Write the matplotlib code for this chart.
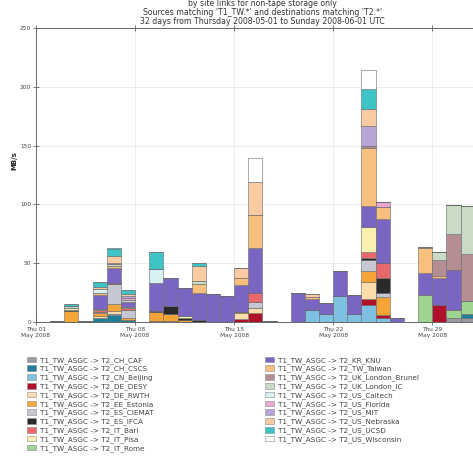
import matplotlib
matplotlib.use('Agg')
import matplotlib.pyplot as plt
import matplotlib.dates as mdates
from matplotlib.patches import Patch
import pandas as pd

# one bin per day, May 1 .. Jun 1 2008
days = pd.date_range('2008-05-01', periods=32, freq='D')

links = [
    'T2_CH_CAF', 'T2_CH_CSCS', 'T2_CN_Beijing', 'T2_DE_DESY', 'T2_DE_RWTH',
    'T2_EE_Estonia', 'T2_ES_CIEMAT', 'T2_ES_IFCA', 'T2_IT_Bari', 'T2_IT_Pisa',
    'T2_IT_Rome', 'T2_KR_KNU', 'T2_TW_Taiwan', 'T2_UK_London_Brunel',
    'T2_UK_London_IC', 'T2_US_Caltech', 'T2_US_Florida', 'T2_US_MIT',
    'T2_US_Nebraska', 'T2_US_UCSD', 'T2_US_Wisconsin',
]

# MB/s per day
ch_caf = [0, 0, 0, 0, 0, 0, 0, 0, 0, 0, 0, 0, 0, 0, 0, 0, 0, 0, 0, 0, 0, 0, 0, 0, 0, 0, 0, 0, 0, 3.5, 3.5, 0]
ch_cscs = [0, 0, 0, 0, 3, 6, 2, 0, 0, 0, 0, 0, 0, 0, 0, 0, 0, 0, 0, 0, 0, 0, 0, 0, 0, 0, 0, 0, 0, 0, 3, 0]
cn_beijing = [0, 0, 0, 0, 0, 1, 0, 0, 0, 0, 0, 0, 0, 0, 0, 0, 0, 0, 0, 10.5, 7, 22.5, 7, 14.5, 3, 0, 0, 0, 0, 0, 0, 0]
de_desy = [0, 0, 0, 0, 0, 0, 0, 0, 0.8, 1, 0, 0, 0, 0, 2.5, 7.4, 0, 0, 0, 0, 0, 0, 0, 5.4, 2.8, 0, 0, 0, 14.5, 0, 0, 0]
de_rwth = [0, 0, 0, 0, 2, 2, 0, 0, 0, 0, 0, 0, 0, 0, 5, 4.3, 0, 0, 0, 0, 0, 0, 0, 13.8, 0, 0, 0, 0, 0, 0, 0, 0]
ee_estonia = [0, 0, 9, 0, 2.5, 6, 1.5, 0, 7.5, 6, 1.5, 0, 0, 0, 1, 0, 0, 0, 0, 0, 0, 0, 0, 9.9, 15.6, 0, 0, 0, 0, 0, 0, 0]
es_ciemat = [0, 0, 0, 0, 1, 17, 7, 0, 0, 0, 0, 0, 0, 0, 0, 5.7, 0, 0, 0, 0, 0, 0, 0, 9.2, 3, 0, 0, 0, 0, 0, 0, 0]
es_ifca = [0, 0, 1.2, 0, 0, 0, 0, 0, 1, 6.5, 2, 2, 0, 0, 0, 0, 0, 0, 0, 0, 0, 0, 0, 2, 12.8, 0, 0, 0, 0, 0, 0, 0]
it_bari = [0, 0, 0, 0, 1.5, 1, 1, 0, 0, 0, 0, 0, 0, 0, 0, 7.1, 0, 0, 0, 0, 0, 0, 0, 5, 12.8, 0, 0, 0, 0, 0, 0, 0]
it_pisa = [0, 0, 2, 0, 0, 0, 0, 0, 0, 0, 1.5, 0, 0, 0, 0, 0, 0, 0, 0, 0, 0, 0, 0, 21, 0, 0, 0, 0, 0, 0, 0, 0]
it_rome = [0, 0, 0, 0, 1, 0, 1.5, 0, 0, 0, 0, 0, 0, 0, 0, 0, 0, 0, 0, 0, 0, 0, 0, 0, 0, 0, 0, 23, 0, 6.5, 11, 0]
kr_knu = [0, 0.8, 0, 0.5, 12, 13, 4, 0, 23.5, 24, 24, 22.5, 24, 22, 23, 38.3, 1, 0, 24.5, 9, 9.5, 21, 16, 17.5, 38, 3.5, 0, 18.5, 22.7, 34, 0, 0]
tw_taiwan = [0, 0, 0, 0, 2, 2, 0, 0, 0, 0, 0, 8, 0, 0, 6, 28.3, 0, 0, 0, 2, 0, 0, 0, 50, 10, 0, 0, 21.5, 1.5, 0, 0, 0]
uk_brunel = [0, 0, 0, 0, 0, 0, 0, 0, 0, 0, 0, 0, 0, 0, 0, 0, 0, 0, 0, 0, 0, 0, 0, 1, 0, 0, 0, 0, 14.2, 31, 40.5, 0]
uk_ic = [0, 0, 1.3, 0, 0, 1.5, 1.5, 0, 0, 0, 0, 2.5, 0, 0, 0, 0, 0, 0, 0, 0, 0, 0, 0, 0, 0, 0, 0, 0, 6.2, 24.5, 41, 0]
us_caltech = [0, 0, 0, 0, 3, 0, 0, 0, 12, 0, 0, 0, 0, 0, 0, 0, 0, 0, 0, 0, 0, 0, 0, 0, 0, 0, 0, 0, 0, 0, 0, 0]
us_florida = [0, 0, 0, 0, 0, 0, 1.5, 0, 0, 0, 0, 0, 0, 0, 0, 0, 0, 0, 0, 0, 0, 0, 0, 0, 4.2, 0, 0, 0, 0, 0, 0, 0]
us_mit = [0, 0, 0, 0, 0, 1, 2, 0, 0, 0, 0, 0, 0, 0, 0, 0, 0, 0, 0, 0, 0, 0, 0, 17, 0, 0, 0, 0, 0, 0, 0, 0]
us_nebraska = [0, 0, 0, 0, 1.5, 6, 2, 0, 0, 0, 0, 13, 0, 0, 8, 28.3, 0, 0, 0, 2.5, 0, 0, 0, 14.5, 0, 0, 0, 1, 0, 0, 0, 0]
us_ucsd = [0, 0, 1.5, 0, 4.5, 6, 3.5, 0, 14.5, 0, 0, 2.5, 0, 0, 0, 0, 0, 0, 0, 0, 0, 0, 0, 17, 0, 0, 0, 0, 0, 0, 0, 0]
us_wisconsin = [0, 0, 0, 0, 0, 0, 0, 0, 0, 0, 0, 0, 0, 0, 0, 19.8, 0, 0, 0, 0, 0, 0, 0, 16.5, 0, 0, 0, 0, 0, 0, 0, 0]

series = [ch_caf, ch_cscs, cn_beijing, de_desy, de_rwth, ee_estonia, es_ciemat,
          es_ifca, it_bari, it_pisa, it_rome, kr_knu, tw_taiwan, uk_brunel, uk_ic,
          us_caltech, us_florida, us_mit, us_nebraska, us_ucsd, us_wisconsin]

colors = ['#9a9aa2', '#1f7f9a', '#7ec0e0', '#b0112a', '#fbdcaa', '#f5a435',
          '#c5c8d2', '#2a2a2a', '#e8686c', '#f8efb0', '#9dd48f', '#7a66c2',
          '#f9bf7f', '#b48e92', '#c9dbc4', '#d7f0f3', '#eba6d3', '#b9a4d8',
          '#f8cba2', '#3ec3c7', '#ffffff']

W, H = 473, 467
fig = plt.figure(figsize=(W / 100, H / 100), dpi=100)
# the source image is cropped on the right, so the axes run past the edge
ax = fig.add_axes([36 / W, (H - 322) / H, 452.8 / W, 294 / H])

bottom = [0.0] * len(days)
for vals, col in zip(series, colors):
    ax.bar(days, vals, width=1.0, align='edge', bottom=bottom,
           color=col, edgecolor='#6a6a6a', linewidth=0.4, zorder=3)
    bottom = [b + v for b, v in zip(bottom, vals)]

ax.set_xlim(days[0], days[-1] + pd.Timedelta(days=1))
ax.set_ylim(0, 250)
ax.set_yticks([0, 50, 100, 150, 200, 250])
# weekly ticks on Thursdays only
ax.xaxis.set_major_locator(mdates.WeekdayLocator(byweekday=mdates.TH))
ax.xaxis.set_major_formatter(mdates.DateFormatter('%a %d\n%b %Y'))

ax.grid(True, color='#e6e6e6', linewidth=0.5, zorder=0)
ax.tick_params(direction='inout', length=4, width=0.5, labelsize=4.2,
               colors='#444444', top=True, right=True, pad=1.5)
for sp in ax.spines.values():
    sp.set_color('#666666')
    sp.set_linewidth(0.7)

ax.set_ylabel('MB/s', fontsize=5, color='#222222', fontweight='bold')
ax.yaxis.set_label_coords(-0.042, 0.55)

cx = (36 + 488.8) / 2 / W
title_lines = [
    'by site links for non-tape storage only',
    "Sources matching 'T1_TW.*' and destinations matching 'T2.*'",
    '32 days from Thursday 2008-05-01 to Sunday 2008-06-01 UTC',
]
for i, line in enumerate(title_lines):
    fig.text(cx, 1 - (3.5 + 9 * i) / H, line, ha='center', va='center',
             fontsize=5.6, color='#333333')

handles = [Patch(facecolor=c, edgecolor='#8a8a8a', linewidth=0.4) for c in colors]
labels = ['T1_TW_ASGC -> ' + l for l in links]

leg_kw = dict(loc='upper left', frameon=False, fontsize=5.2, handlelength=1.25,
              handleheight=0.8, handletextpad=0.6, labelspacing=0.25,
              borderpad=0, borderaxespad=0, labelcolor='#444444')
fig.legend(handles[:11], labels[:11], bbox_to_anchor=(27 / W, 1 - 356.5 / H), **leg_kw)
fig.legend(handles[11:], labels[11:], bbox_to_anchor=(265 / W, 1 - 356.5 / H), **leg_kw)

fig.savefig('out.png', dpi=100)
